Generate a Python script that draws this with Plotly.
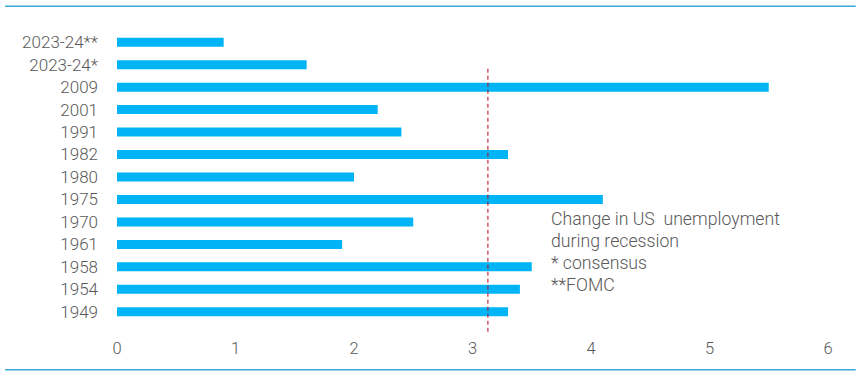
import plotly.graph_objects as go

categories = ["1949", "1954", "1958", "1961", "1970", "1975", "1980", "1982",
              "1991", "2001", "2009", "2023-24*", "2023-24**"]
values = [3.3, 3.4, 3.5, 1.9, 2.5, 4.1, 2.0, 3.3, 2.4, 2.2, 5.5, 1.6, 0.9]
threshold = 3.13
x_ticks = [0, 1, 2, 3, 4, 5, 6]
note_lines = ["Change in US  unemployment", "during recession", "* consensus", "**FOMC"]

BAR = "#00b4f5"
LINE = "#3aa9dc"
TXT = "#595959"

fig = go.Figure()
fig.add_trace(go.Bar(
    x=values, y=categories, orientation="h",
    marker=dict(color=BAR, line=dict(width=0)),
    width=0.4, hoverinfo="x+y",
))

fig.update_layout(
    width=861, height=376,
    margin=dict(l=117, r=33, t=31, b=53),
    paper_bgcolor="white", plot_bgcolor="white",
    showlegend=False,
    font=dict(family="Roboto", color=TXT),
    xaxis=dict(range=[0, 6], tickvals=x_ticks, showgrid=False, zeroline=False,
               showline=False, ticks="", ticklabelstandoff=13,
               tickfont=dict(family="Roboto", size=16.5, color=TXT, weight=300)),
    yaxis=dict(type="category", categoryorder="array", categoryarray=categories,
               range=[-0.5, 12.5], showgrid=False, zeroline=False, showline=False,
               ticks="", ticklabelstandoff=18,
               tickfont=dict(family="Roboto", size=17, color=TXT, weight=300)),
)

# dashed reference line
fig.add_shape(type="line", xref="x", yref="paper", x0=threshold, x1=threshold,
              y0=-0.03, y1=0.876, line=dict(color="#c0001a", width=1, dash="4px,3px"))

# top and bottom frame lines
for yp in [1.085, -0.16]:
    fig.add_shape(type="line", xref="paper", yref="paper", x0=-0.1575, x1=1.039,
                  y0=yp, y1=yp, line=dict(color=LINE, width=1.5))

note_y = [0.3564, 0.2812, 0.206, 0.1308]
for txt, yp in zip(note_lines, note_y):
    fig.add_annotation(text=txt.replace("  ", "&nbsp; "), xref="x", yref="paper", x=3.645, y=yp,
                       xanchor="left", yanchor="middle", showarrow=False,
                       font=dict(family="Roboto", size=17.7, color=TXT, weight=300))

fig.write_html("out.html", config={"displayModeBar": False},
               post_script="document.body.style.margin='0';")
